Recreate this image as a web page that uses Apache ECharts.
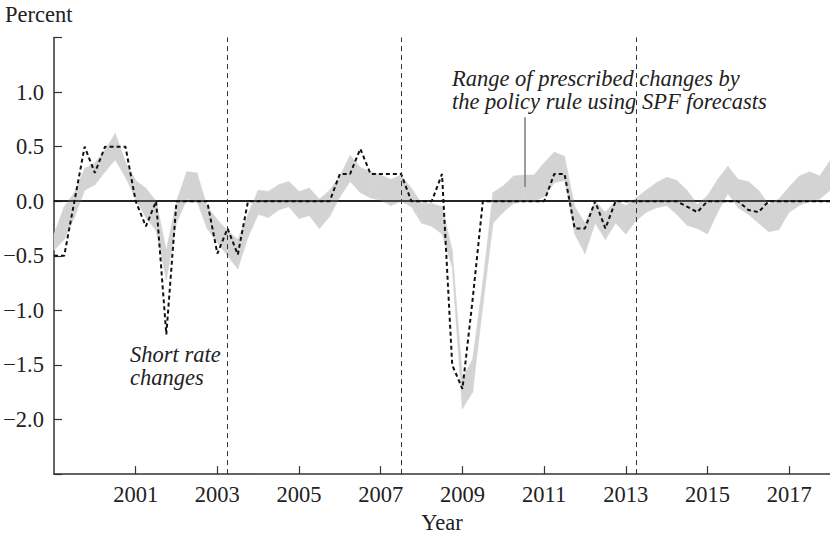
<!DOCTYPE html>
<html>
<head>
<meta charset="utf-8">
<script src="https://cdn.jsdelivr.net/npm/echarts@6/dist/echarts.min.js"></script>
<style>
  html, body { margin: 0; padding: 0; background: #fff; }
  #chart { width: 830px; height: 539px; }
</style>
</head>
<body>
<div id="chart"></div>
<script>
// quarterly observations, 1999Q1 .. 2018Q1
const startYear = 1999;
const shortRate = [
  -0.5, -0.5, 0.0, 0.5,   0.26, 0.5, 0.5, 0.5,
  0.0, -0.23, 0.0, -1.22, 0, 0, 0, 0,
  -0.48, -0.25, -0.49, 0, 0, 0, 0, 0,
  0, 0, 0, 0,             0.25, 0.25, 0.48, 0.25,
  0.25, 0.25, 0.25, 0,    0, 0, 0.25, -1.5,
  -1.72, -0.9, 0, 0,      0, 0, 0, 0,
  0, 0.25, 0.25, -0.25,   -0.25, 0, -0.25, 0,
  0, 0, 0, 0,             0, 0, -0.05, -0.1,
  0, 0, 0, 0,             -0.08, -0.1, 0, 0,
  0, 0, 0, 0,             0
];
const bandLow = [
  -0.45, -0.35, -0.15, 0.1,   0.15, 0.27, 0.38, 0.22,
  0.02, -0.15, -0.27, -0.72,  -0.2, 0.02, 0.0, -0.25,
  -0.38, -0.5, -0.62, -0.33,  -0.12, -0.15, -0.08, -0.05,
  -0.16, -0.13, -0.25, -0.14, 0.04, 0.18, 0.08, 0.03,
  0.01, -0.04, 0.0, -0.05,    -0.2, -0.23, -0.3, -0.6,
  -1.9, -1.75, -0.95, -0.2,   -0.1, -0.02, 0.0, 0.0,
  0.04, 0.17, 0.19, -0.3,     -0.48, -0.2, -0.35, -0.2,
  -0.3, -0.18, -0.1, -0.06,   -0.04, -0.12, -0.22, -0.25,
  -0.3, -0.1, 0.07, -0.06,    -0.12, -0.2, -0.28, -0.26,
  -0.1, -0.04, 0.0, 0.02,     0.1
];
const bandHigh = [
  -0.3, -0.05, 0.08, 0.3,     0.35, 0.47, 0.62, 0.36,
  0.19, 0.12, 0.0, -0.45,     0.0, 0.27, 0.26, -0.05,
  -0.17, -0.27, -0.35, -0.12, 0.1, 0.09, 0.15, 0.18,
  0.09, 0.12, 0.02, 0.1,      0.23, 0.42, 0.31, 0.27,
  0.24, 0.2, 0.24, 0.12,      -0.02, -0.02, -0.05, -0.45,
  -1.62, -1.45, -0.75, 0.08,  0.14, 0.23, 0.24, 0.24,
  0.35, 0.45, 0.41, -0.05,    -0.2, 0.0, -0.1, 0.0,
  -0.04, 0.03, 0.1, 0.17,     0.22, 0.19, 0.1, -0.03,
  0.05, 0.2, 0.32, 0.2,       0.18, 0.1, -0.03, 0.02,
  0.13, 0.23, 0.27, 0.23,     0.37
];
// dashed vertical markers (years)
const markerYears = [2003.25, 2007.5, 2013.25];
const yTicks = [-2.0, -1.5, -1.0, -0.5, 0.0, 0.5, 1.0];

const font = "Liberation Serif";
const ink = "#222";
const fs = 22.5;

// x is years since 1999 so the 2-year ticks start on odd years
const xs = shortRate.map((_, i) => i / 4);
const pair = (arr) => arr.map((v, i) => [xs[i], v]);

// one quad per quarter: x0, lo0, hi0, x1, lo1, hi1
const bandSegments = [];
for (let i = 0; i < xs.length - 1; i++) {
  bandSegments.push([xs[i], bandLow[i], bandHigh[i], xs[i + 1], bandLow[i + 1], bandHigh[i + 1]]);
}

const chart = echarts.init(document.getElementById("chart"), null, { renderer: "svg" });

const option = {
  animation: false,
  textStyle: { fontFamily: font },
  grid: { left: 54, right: 0, top: 37.5, bottom: 62.5, containLabel: false },
  xAxis: [
    {
      type: "value",
      min: 0,
      max: 19,
      interval: 2,
      name: "Year",
      nameLocation: "middle",
      nameGap: 33,
      nameTextStyle: { fontFamily: font, fontSize: fs, color: ink },
      axisLine: { show: true, onZero: false, lineStyle: { color: "#333", width: 1.5 } },
      axisTick: { show: true, inside: true, length: 8, lineStyle: { color: "#333", width: 1.2 } },
      axisLabel: {
        fontFamily: font, fontSize: fs, color: ink, margin: 9,
        showMinLabel: false, showMaxLabel: false,
        formatter: (v) => String(startYear + v)
      },
      splitLine: { show: false }
    },
    {
      type: "value",
      position: "top",
      min: 0,
      max: 19,
      axisLine: { show: true, lineStyle: { color: "#333", width: 1.5 } },
      axisTick: { show: false },
      axisLabel: { show: false },
      splitLine: { show: false }
    }
  ],
  yAxis: {
    type: "value",
    min: -2.5,
    max: 1.5,
    interval: 0.5,
    axisLine: { show: true, onZero: false, lineStyle: { color: "#333", width: 1.5 } },
    axisTick: { show: true, inside: true, length: 8, lineStyle: { color: "#333", width: 1.2 } },
    axisLabel: {
      fontFamily: font, fontSize: fs, color: ink, margin: 10,
      formatter: (v) => {
        if (!yTicks.some((t) => Math.abs(t - v) < 1e-9)) return "";
        return (v < 0 ? "\u2212" : "") + Math.abs(v).toFixed(1);
      }
    },
    splitLine: { show: false }
  },
  graphic: [
    {
      type: "text", left: 5, top: 3,
      style: { text: "Percent", fontFamily: font, fontSize: fs, fill: ink }
    },
    {
      type: "text", left: 452, top: 67,
      style: {
        text: "Range of prescribed changes by\nthe policy rule using SPF forecasts",
        fontFamily: font, fontStyle: "italic", fontSize: fs, fill: ink, lineHeight: 23
      }
    },
    {
      type: "text", left: 130, top: 343,
      style: {
        text: "Short rate\nchanges",
        fontFamily: font, fontStyle: "italic", fontSize: fs, fill: ink, lineHeight: 23
      }
    }
  ],
  series: [
    {
      name: "range",
      type: "custom",
      silent: true,
      z: 1,
      data: bandSegments,
      encode: { x: [0, 3], y: [1, 2, 4, 5] },
      renderItem: (params, api) => {
        const pts = [
          api.coord([api.value(0), api.value(1)]),
          api.coord([api.value(3), api.value(4)]),
          api.coord([api.value(3), api.value(5)]),
          api.coord([api.value(0), api.value(2)])
        ];
        return {
          type: "polygon",
          shape: { points: pts },
          style: { fill: "#d3d3d3", stroke: "#d3d3d3", lineWidth: 0.6 }
        };
      },
      markLine: {
        silent: true,
        symbol: "none",
        label: { show: false },
        lineStyle: { color: "#7a7a7a", width: 1.5, type: "solid" },
        data: [[{ coord: [11.52, 0.77] }, { coord: [11.52, 0.13] }]]
      }
    },
    {
      name: "Short rate changes",
      type: "line",
      data: pair(shortRate),
      symbol: "none",
      lineStyle: { color: "#111", width: 2, type: [4, 3] },
      z: 3,
      markLine: {
        silent: true,
        symbol: "none",
        label: { show: false },
        data: [
          { yAxis: 0, lineStyle: { color: "#111", width: 1.5, type: "solid" } },
          ...markerYears.map((y) => ({
            xAxis: y - startYear,
            lineStyle: { color: "#333", width: 1, type: [5, 4] }
          }))
        ]
      }
    }
  ]
};

chart.setOption(option);
</script>
</body>
</html>
